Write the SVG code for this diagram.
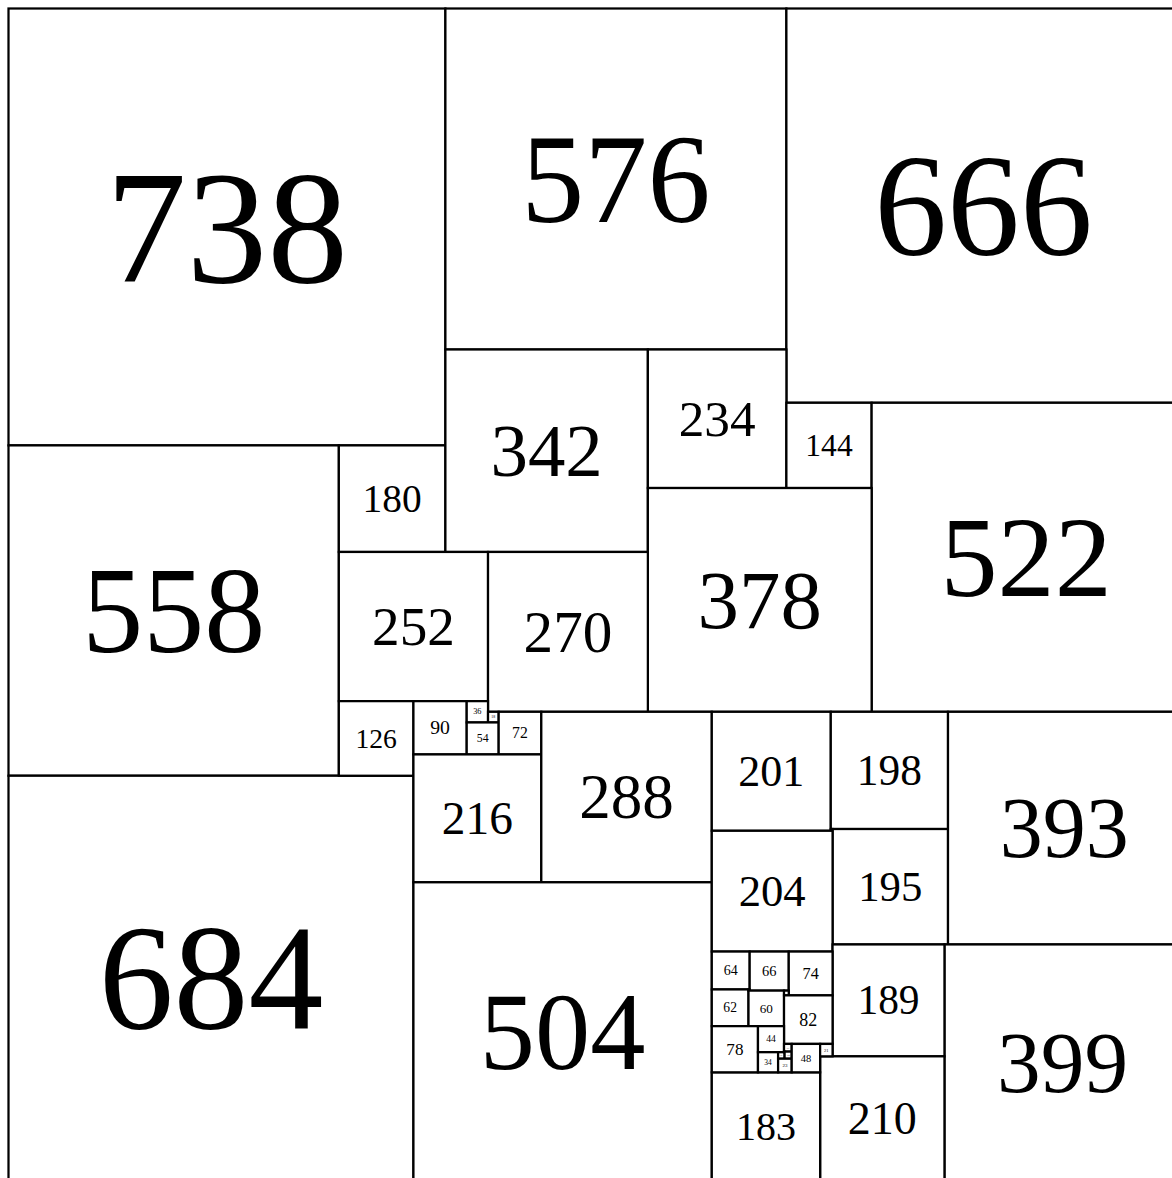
<svg xmlns="http://www.w3.org/2000/svg" width="1172" height="1178" viewBox="0 0 1172 1178">
<style>
rect{fill:#fff;stroke:#000;stroke-width:3.8}
text{font-family:"Liberation Serif","Times New Roman",serif;text-anchor:middle;fill:#000}
</style>
<rect x="0" y="0" width="1172" height="1178" style="fill:#fff;stroke:none"/>
<g transform="translate(8.5,8.5) scale(0.592)">
<g id="sq738"><rect x="0" y="0" width="738" height="738"/><text x="369" y="461.3" font-size="273">738</text></g>
<g id="sq576"><rect x="738" y="0" width="576" height="576"/><text x="1026" y="360" font-size="213">576</text></g>
<g id="sq666"><rect x="1314" y="0" width="666" height="666"/><text x="1647" y="416.3" font-size="246">666</text></g>
<g id="sq558"><rect x="0" y="738" width="558" height="558"/><text x="279" y="1086.8" font-size="206">558</text></g>
<g id="sq180"><rect x="558" y="738" width="180" height="180"/><text x="648" y="850.5" font-size="66.6">180</text></g>
<g id="sq342"><rect x="738" y="576" width="342" height="342"/><text x="909" y="789.8" font-size="126.5">342</text></g>
<g id="sq234"><rect x="1080" y="576" width="234" height="234"/><text x="1197" y="722.3" font-size="86.6">234</text></g>
<g id="sq144"><rect x="1314" y="666" width="144" height="144"/><text x="1386" y="756" font-size="53.3">144</text></g>
<g id="sq522"><rect x="1458" y="666" width="522" height="522"/><text x="1719" y="992.3" font-size="193">522</text></g>
<g id="sq378"><rect x="1080" y="810" width="378" height="378"/><text x="1269" y="1046.3" font-size="140">378</text></g>
<g id="sq252"><rect x="558" y="918" width="252" height="252"/><text x="684" y="1075.5" font-size="93.2">252</text></g>
<g id="sq270"><rect x="810" y="918" width="270" height="270"/><text x="945" y="1086.8" font-size="100">270</text></g>
<g id="sq684"><rect x="0" y="1296" width="684" height="684"/><text x="342" y="1723.5" font-size="253">684</text></g>
<g id="sq126"><rect x="558" y="1170" width="126" height="126"/><text x="621" y="1248.8" font-size="46.6">126</text></g>
<g id="sq90"><rect x="684" y="1170" width="90" height="90"/><text x="729" y="1226.3" font-size="33.3">90</text></g>
<g id="sq36"><rect x="774" y="1170" width="36" height="36"/><text x="792" y="1192.5" font-size="14">36</text></g>
<g id="sq18"><rect x="810" y="1188" width="18" height="18"/><text x="819" y="1199.3" font-size="6.7">18</text></g>
<g id="sq54"><rect x="774" y="1206" width="54" height="54"/><text x="801" y="1239.8" font-size="20">54</text></g>
<g id="sq72"><rect x="828" y="1188" width="72" height="72"/><text x="864" y="1233" font-size="26.6">72</text></g>
<g id="sq216"><rect x="684" y="1260" width="216" height="216"/><text x="792" y="1395" font-size="80">216</text></g>
<g id="sq288"><rect x="900" y="1188" width="288" height="288"/><text x="1044" y="1368" font-size="106.6">288</text></g>
<g id="sq504"><rect x="684" y="1476" width="504" height="504"/><text x="936" y="1791" font-size="186.5">504</text></g>
<g id="sq201"><rect x="1188" y="1188" width="201" height="201"/><text x="1288.5" y="1313.6" font-size="74.4">201</text></g>
<g id="sq198"><rect x="1389" y="1188" width="198" height="198"/><text x="1488" y="1311.8" font-size="73.3">198</text></g>
<g id="sq3"><rect x="1389" y="1386" width="3" height="3"/></g>
<g id="sq195"><rect x="1392" y="1386" width="195" height="195"/><text x="1489.5" y="1507.9" font-size="72.2">195</text></g>
<g id="sq204"><rect x="1188" y="1389" width="204" height="204"/><text x="1290" y="1516.5" font-size="75.5">204</text></g>
<g id="sq393"><rect x="1587" y="1188" width="393" height="393"/><text x="1783.5" y="1433.6" font-size="145.4">393</text></g>
<g id="sq399"><rect x="1581" y="1581" width="399" height="399"/><text x="1780.5" y="1830.4" font-size="147.6">399</text></g>
<g id="sq189"><rect x="1392" y="1581" width="189" height="189"/><text x="1486.5" y="1699.1" font-size="70">189</text></g>
<g id="sq210"><rect x="1371" y="1770" width="210" height="210"/><text x="1476" y="1901.3" font-size="77.7">210</text></g>
<g id="sq183"><rect x="1188" y="1797" width="183" height="183"/><text x="1279.5" y="1911.4" font-size="67.7">183</text></g>
<g id="sq64"><rect x="1188" y="1593" width="64" height="64"/><text x="1220" y="1633" font-size="23.7">64</text></g>
<g id="sq66"><rect x="1252" y="1593" width="66" height="66"/><text x="1285" y="1634.3" font-size="24.4">66</text></g>
<g id="sq74"><rect x="1318" y="1593" width="74" height="74"/><text x="1355" y="1639.3" font-size="27.4">74</text></g>
<g id="sq62"><rect x="1188" y="1657" width="62" height="62"/><text x="1219" y="1695.8" font-size="22.9">62</text></g>
<g id="sq2"><rect x="1250" y="1657" width="2" height="2"/></g>
<g id="sq60"><rect x="1250" y="1659" width="60" height="60"/><text x="1280" y="1696.5" font-size="22.2">60</text></g>
<g id="sq8"><rect x="1310" y="1659" width="8" height="8"/></g>
<g id="sq82"><rect x="1310" y="1667" width="82" height="82"/><text x="1351" y="1718.3" font-size="30.3">82</text></g>
<g id="sq78"><rect x="1188" y="1719" width="78" height="78"/><text x="1227" y="1767.8" font-size="28.9">78</text></g>
<g id="sq44"><rect x="1266" y="1719" width="44" height="44"/><text x="1288" y="1746.5" font-size="16.3">44</text></g>
<g id="sq34"><rect x="1266" y="1763" width="34" height="34"/><text x="1283" y="1784.3" font-size="12.6">34</text></g>
<g id="sq11"><rect x="1300" y="1763" width="11" height="11"/><text x="1305.5" y="1769.9" font-size="4.1">11</text></g>
<g id="sq13"><rect x="1310" y="1749" width="13" height="13"/><text x="1316.5" y="1757.1" font-size="4.8">13</text></g>
<g id="sq1"><rect x="1310" y="1762" width="1" height="1"/></g>
<g id="sq12"><rect x="1311" y="1762" width="12" height="12"/><text x="1317" y="1769.5" font-size="4.4">12</text></g>
<g id="sq23"><rect x="1300" y="1774" width="23" height="23"/><text x="1311.5" y="1788.4" font-size="8.5">23</text></g>
<g id="sq48"><rect x="1323" y="1749" width="48" height="48"/><text x="1347" y="1779" font-size="17.8">48</text></g>
<g id="sq21"><rect x="1371" y="1749" width="21" height="21"/><text x="1381.5" y="1762.1" font-size="7.8">21</text></g>
</g>
</svg>
